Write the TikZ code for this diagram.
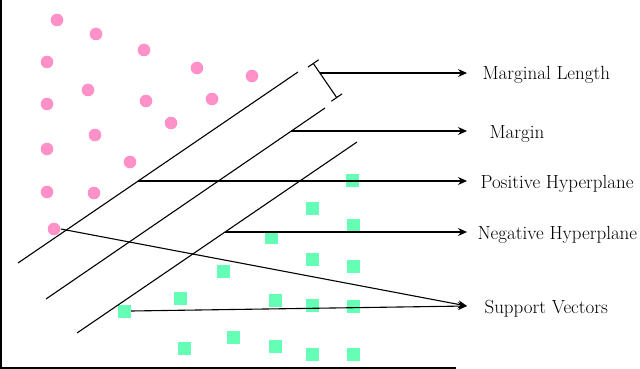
\documentclass[tikz,border=0pt]{standalone}
\usepackage{xcolor}
\usepackage{tikz}
\usetikzlibrary{arrows.meta}
\definecolor{rose}{RGB}{255,145,200}
\definecolor{mint}{RGB}{100,255,180}

\begin{document}
\begin{tikzpicture}[x=1pt, y=-1pt, line width=1.1pt,
  dot/.style={circle, fill=rose, inner sep=0pt, minimum size=12.6pt},
  sq/.style={rectangle, fill=mint, inner sep=0pt, minimum size=13pt},
  pointer/.style={-{Stealth[length=9pt, width=8pt]}},
  lbl/.style={anchor=base west, inner sep=0pt, font=\fontsize{19}{22}\selectfont}]
  \useasboundingbox (0,0) rectangle (640,369);
  % Les axes.
  \draw[line width=1.5pt] (1,0) -- (1,368) -- (456,368);
  % Les points roses, d'une classe, et celui qui sert de vecteur support.
  \foreach \x/\y [count=\i] in {57/20, 96/34, 144/50, 47/62, 197/68, 252/76,
      88/90, 47/104, 146/101, 212/99, 171/123, 95/135, 47/149, 130/162,
      47/192, 94/193}
    \node[dot] (p\i) at (\x,\y) {};
  \node[dot] (psv) at (54,229) {};
  % Les carrés verts, de l'autre classe.
  \foreach \x/\y [count=\i] in {352/180, 312/208, 353/225, 271/237, 312/259,
      353/266, 223/271, 180/298, 275/300, 312/305, 353/306, 233/337,
      184/348, 275/346, 312/354, 353/354}
    \node[sq] (g\i) at (\x,\y) {};
  \node[sq] (gsv) at (124,311) {};
  % Les trois hyperplans parallèles.
  \draw (18,263) coordinate (h1a) -- (298,72) coordinate (h1b);
  \draw (46,299) coordinate (h2a) -- (325,108) coordinate (h2b);
  \draw (77,333) coordinate (h3a) -- (357,142) coordinate (h3b);
  % La largeur de la marge, cotée perpendiculairement aux droites.
  \draw[{Bar[width=13pt]}-{Bar[width=13pt]}] (313,63) coordinate (mtop)
    -- (337,98) coordinate (mbot);
  % Les étiquettes, à droite.
  \node[lbl] (len) at (482,80) {Marginal Length};
  \node[lbl] (mar) at (489,138) {Margin};
  \node[lbl] (pos) at (480,188) {Positive Hyperplane};
  \node[lbl] (neg) at (477,239) {Negative Hyperplane};
  \node[lbl] (sup) at (484,313) {Support Vectors};
  \coordinate (lenTip) at (467,73);
  \coordinate (marTip) at (467,131);
  \coordinate (posTip) at (467,181);
  \coordinate (negTip) at (467,232);
  \coordinate (supTip) at (467,306);
  % Les flèches vers les étiquettes.
  \draw[pointer] (320,73) -- (lenTip);
  \draw[pointer] (291.4,131) -- (marTip);
  \draw[pointer] (138.2,181) -- (posTip);
  \draw[pointer] (225,232) -- (negTip);
  \draw[pointer] (psv.east) -- (supTip);
  \draw[pointer] (gsv.east) -- (supTip);
\end{tikzpicture}
\end{document}
